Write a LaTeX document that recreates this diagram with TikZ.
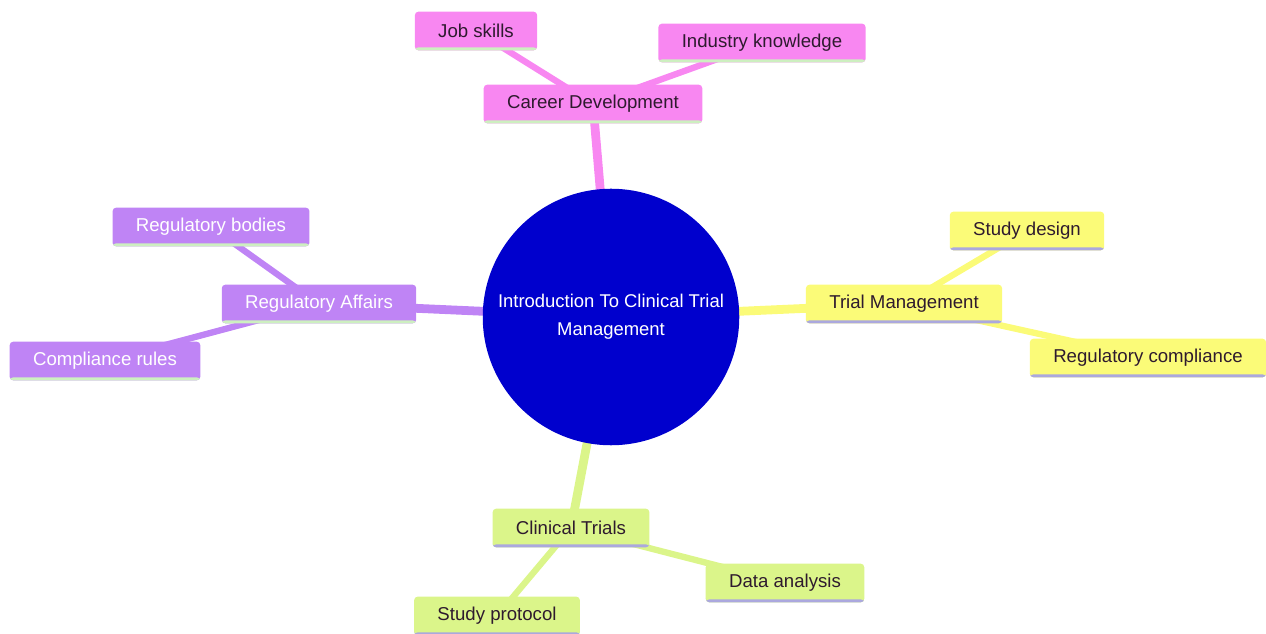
\documentclass[tikz,border=0pt]{standalone}
\usepackage{fontspec}
\setmainfont{Liberation Sans}
\usetikzlibrary{backgrounds}
\definecolor{hubblue}{HTML}{0000CD}
\definecolor{cpink}{HTML}{F887F1}
\definecolor{cpurple}{HTML}{BF84F5}
\definecolor{cyellow}{HTML}{FBFB78}
\definecolor{clime}{HTML}{DBF58A}
\definecolor{lgreen}{HTML}{CDEFC0}
\definecolor{lavender}{HTML}{ABA8DE}
\definecolor{tdark}{HTML}{2E1A2E}
\tikzset{
    box/.style={rectangle,rounded corners=2pt,minimum height=22pt,inner xsep=13.3pt,
        font=\fontsize{10.6}{12}\selectfont},
    under/.style={path picture={\fill[#1] ([yshift=1.7pt]path picture bounding box.south west)
        rectangle (path picture bounding box.south east);}},
    pinkbox/.style={box,fill=cpink,text=tdark,under=lgreen},
    purplebox/.style={box,fill=cpurple,text=white,under=lgreen},
    yellowbox/.style={box,fill=cyellow,text=tdark,under=lavender},
    limebox/.style={box,fill=clime,text=tdark,under=lavender},
    hub/.style={circle,fill=hubblue,text=white,minimum size=146pt,inner sep=0pt,align=center,
        font=\fontsize{10.5}{15.8}\selectfont},
    trunk/.style={line width=5pt,draw=#1},
    twig/.style={line width=3.6pt,draw=#1},
}

\begin{document}
\begin{tikzpicture}[x=0.02cm,y=-0.02cm]
    \useasboundingbox (0,0) rectangle (1266,634);
    \node[hub] (root) at (611,317) {Introduction To Clinical Trial\\Management};
    \node[pinkbox] (cd) at (593,104) {Career Development};
    \node[pinkbox] (js) at (476,31) {Job skills};
    \node[pinkbox] (ik) at (762,43) {Industry knowledge};
    \node[yellowbox] (tm) at (904,304) {Trial Management};
    \node[yellowbox] (sd) at (1027,231) {Study design};
    \node[yellowbox] (rc) at (1148,358) {Regulatory compliance};
    \node[purplebox] (ra) at (319,304) {Regulatory Affairs};
    \node[purplebox] (rb) at (211,227) {Regulatory bodies};
    \node[purplebox] (cr) at (105,361) {Compliance rules};
    \node[limebox] (ct) at (571,528) {Clinical Trials};
    \node[limebox] (da) at (785,583) {Data analysis};
    \node[limebox] (sp) at (497,616) {Study protocol};
    \begin{scope}[on background layer]
    \draw[trunk=cpink] (root.center) -- (cd.center);
    \draw[twig=cpink] (cd.center) -- (js.center);
    \draw[twig=cpink] (cd.center) -- (ik.center);
    \draw[trunk=cyellow] (root.center) -- (tm.center);
    \draw[twig=cyellow] (tm.center) -- (sd.center);
    \draw[twig=cyellow] (tm.center) -- (rc.center);
    \draw[trunk=cpurple] (root.center) -- (ra.center);
    \draw[twig=cpurple] (ra.center) -- (rb.center);
    \draw[twig=cpurple] (ra.center) -- (cr.center);
    \draw[trunk=clime] (root.center) -- (ct.center);
    \draw[twig=clime] (ct.center) -- (da.center);
    \draw[twig=clime] (ct.center) -- (sp.center);
    \end{scope}
\end{tikzpicture}
\end{document}
